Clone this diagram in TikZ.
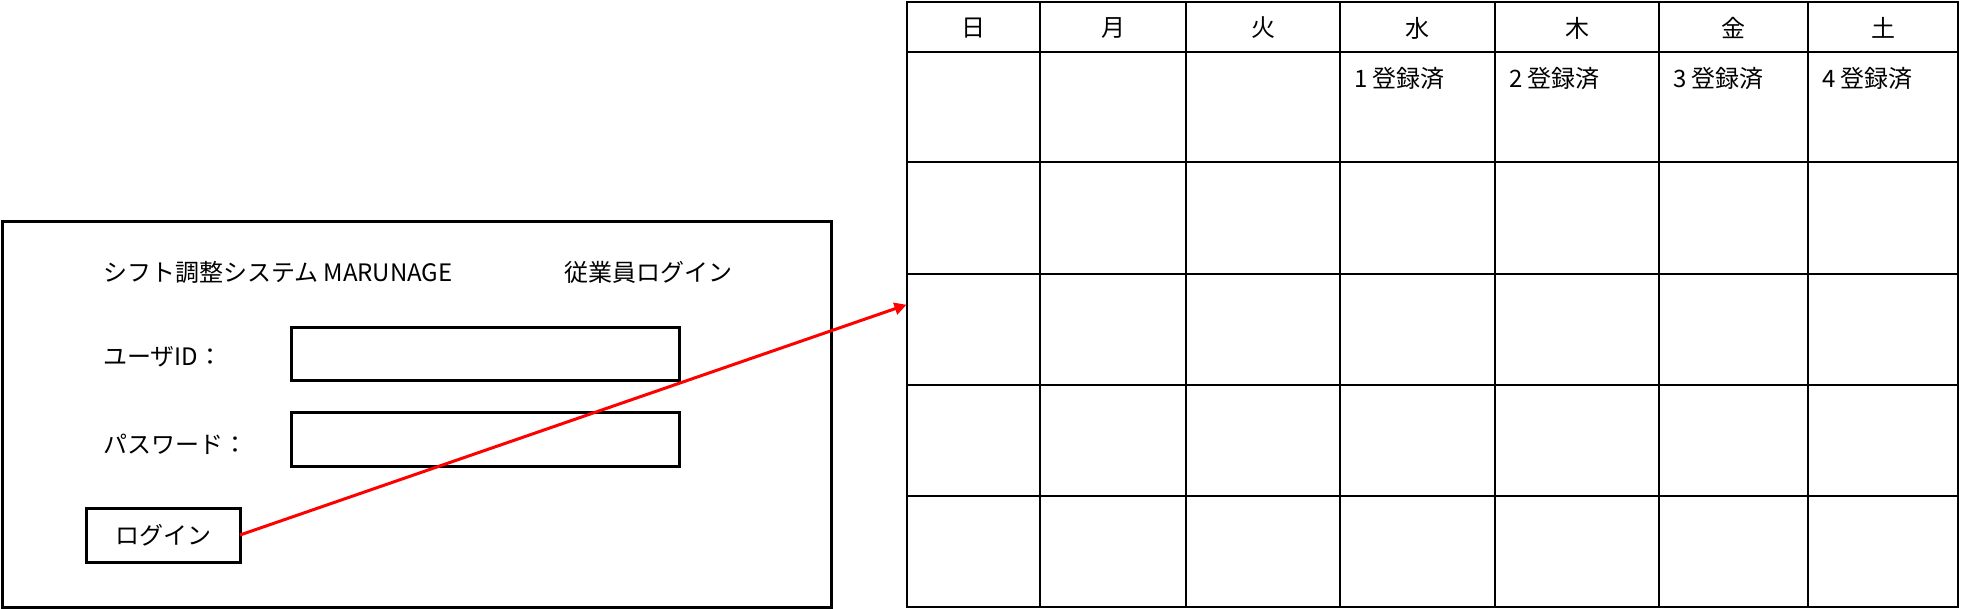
\documentclass[tikz,border=0pt]{standalone}
\usepackage{fontspec}
\setmainfont{Noto Sans CJK JP}
\usetikzlibrary{arrows.meta}

\begin{document}
\begin{tikzpicture}[x=0.5pt, y=-0.5pt, every node/.style = {font=\fontsize{12pt}{14pt}\selectfont, inner sep=0pt, outer sep=0pt},
    frame/.style = {draw, line width=1.5pt},
    field/.style = {frame, minimum width=194pt, minimum height=26.5pt},
    label/.style = {anchor=west}]
    \useasboundingbox (0,0) rectangle (1961,609);
    % login screen
    \node[frame, minimum width=414.5pt, minimum height=192.5pt] (login) at (417,414.5) {};
    \node[label] (title) at (103,272) {シフト調整システム MARUNAGE};
    \node[label] (staff) at (564,272) {従業員ログイン};
    \node[label] (user) at (103,357) {ユーザID：};
    \node[label] (pass) at (103,444) {パスワード：};
    \node[field] (userbox) at (485,354.5) {};
    \node[field] (passbox) at (485,439.5) {};
    \node[frame, minimum width=77pt, minimum height=27pt] (btn) at (163,535) {ログイン};
    % calendar
    \node[draw, line width=1pt, minimum width=525.5pt, minimum height=302.25pt] (cal) at (1432,304.75) {};
    \foreach \x in {1040,1186,1340,1495,1659,1808}
        \draw[line width=1pt] (cal.north -| \x,0) -- (cal.south -| \x,0);
    \foreach \y in {52.5,162.5,274,385,496}
        \draw[line width=1pt] (cal.west |- 0,\y) -- (cal.east |- 0,\y);
    \foreach \a/\b/\d [count=\i] in {907/1040/日, 1040/1186/月, 1186/1340/火, 1340/1495/水, 1495/1659/木, 1659/1808/金, 1808/1958/土}
        \node (day\i) at ({(\a+\b)/2},28) {\d};
    \foreach \a/\n in {1340/1, 1495/2, 1659/3, 1808/4}
        \node[label] (reg\n) at (\a+14,79) {\n\ 登録済};
    \draw[red, line width=1.5pt, -{Triangle[length=6pt,width=6pt]}] (btn.east) -- (cal.west);
\end{tikzpicture}
\end{document}
